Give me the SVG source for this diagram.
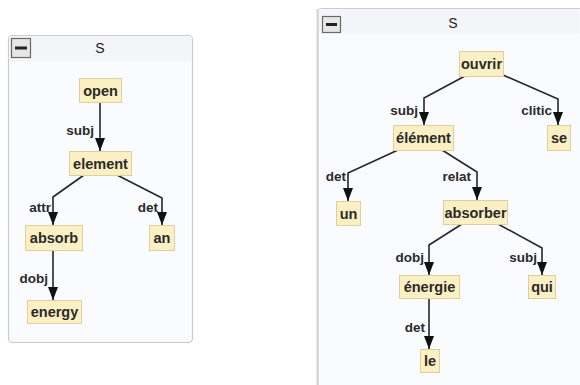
<svg xmlns="http://www.w3.org/2000/svg" width="580" height="385" viewBox="0 0 580 385">
  <style>
    .panel { fill: #f9fbfe; stroke: #c9ccd0; stroke-width: 1.2; }
    .header { fill: #f3f5f8; }
    .btn { fill: #e6e6e6; stroke: #6a6a6a; stroke-width: 1.2; }
    .btnbar { fill: #222; }
    .title { font-family: "Liberation Sans", Arial, sans-serif; font-size: 14px; fill: #222; text-anchor: middle; }
    .node rect { fill: #fbefc4; stroke: #ddd09e; stroke-width: 1; }
    .node text { font-family: "Liberation Sans", Arial, sans-serif; font-size: 14.5px; font-weight: bold; fill: #2a2a2a; text-anchor: middle; }
    .edge { fill: none; stroke: #262626; stroke-width: 1.6; marker-end: url(#arrow); }
    .lbl { font-family: "Liberation Sans", Arial, sans-serif; font-size: 13.5px; font-weight: bold; fill: #2a2a2a; text-anchor: end; }
  </style>
  <defs>
    <marker id="arrow" viewBox="0 0 13 10" refX="13" refY="5" markerWidth="13" markerHeight="10" markerUnits="userSpaceOnUse" orient="auto">
      <path d="M0,0 L13,5 L0,10 z" fill="#111"/>
    </marker>
  </defs>

  <rect width="580" height="385" fill="#ffffff"/>

  <!-- English parse panel -->
  <g id="panel-en">
    <rect class="panel" x="8.5" y="35.5" width="184" height="307" rx="4"/>
    <rect class="header" x="9.2" y="36.2" width="182.6" height="25" rx="3"/>
    <rect class="btn" x="11.5" y="38.5" width="19" height="19"/>
    <rect class="btnbar" x="15" y="46.5" width="12" height="3"/>
    <text class="title" x="100" y="53">S</text>
  </g>

  <!-- French parse panel -->
  <g id="panel-fr">
    <rect class="panel" x="317.5" y="8.5" width="270" height="385" rx="4"/>
    <rect x="316.5" y="9" width="2.5" height="376" fill="#d5d7da"/>
    <rect class="header" x="319.2" y="9.2" width="260" height="24"/>
    <rect class="btn" x="322.5" y="16.5" width="18" height="16"/>
    <rect class="btnbar" x="326" y="23" width="11" height="3"/>
    <text class="title" x="453" y="28">S</text>
  </g>

  <!-- dependency arcs -->
  <g id="connectors">
    <path class="edge" d="M100,102 L100,151"/>
    <path class="edge" d="M84,175 L53,197 L53,225"/>
    <path class="edge" d="M117,175 L162,198 L162,225"/>
    <path class="edge" d="M53,250 L53,300"/>

    <path class="edge" d="M465,76 L424,98 L424,125"/>
    <path class="edge" d="M503,75 L558,99 L558,125"/>
    <path class="edge" d="M398,150 L348,173 L348,201"/>
    <path class="edge" d="M442,150 L477,172 L477,200"/>
    <path class="edge" d="M462,224 L429,245 L429,275"/>
    <path class="edge" d="M498,224 L542,248 L542,275"/>
    <path class="edge" d="M429,298 L429,349"/>

    <text class="lbl" x="94" y="135">subj</text>
    <text class="lbl" x="51" y="212">attr</text>
    <text class="lbl" x="158" y="212">det</text>
    <text class="lbl" x="48" y="283">dobj</text>

    <text class="lbl" x="418" y="115">subj</text>
    <text class="lbl" x="552" y="115">clitic</text>
    <text class="lbl" x="346" y="181">det</text>
    <text class="lbl" x="471" y="181">relat</text>
    <text class="lbl" x="424" y="262">dobj</text>
    <text class="lbl" x="537" y="262">subj</text>
    <text class="lbl" x="425" y="332">det</text>
  </g>

  <!-- English nodes -->
  <g id="n-open" class="node"><rect x="79.5" y="78.5" width="42" height="24"/><text x="100.5" y="95.5">open</text></g>
  <g id="n-element" class="node"><rect x="69.5" y="151.5" width="62" height="24"/><text x="100.5" y="168.5">element</text></g>
  <g id="n-absorb" class="node"><rect x="25.5" y="225.5" width="57" height="25"/><text x="54" y="243">absorb</text></g>
  <g id="n-an" class="node"><rect x="149.5" y="225.5" width="25" height="25"/><text x="162" y="243">an</text></g>
  <g id="n-energy" class="node"><rect x="27.5" y="300.5" width="54" height="23"/><text x="54.5" y="317">energy</text></g>

  <!-- French nodes -->
  <g id="n-ouvrir" class="node"><rect x="459.5" y="51.5" width="44" height="25"/><text x="481.5" y="69">ouvrir</text></g>
  <g id="n-element-fr" class="node"><rect x="393.5" y="125.5" width="60" height="25"/><text x="423.5" y="143">élément</text></g>
  <g id="n-se" class="node"><rect x="547.5" y="125.5" width="23" height="25"/><text x="559" y="143">se</text></g>
  <g id="n-un" class="node"><rect x="336.5" y="201.5" width="24" height="24"/><text x="348.5" y="218.5">un</text></g>
  <g id="n-absorber" class="node"><rect x="443.5" y="200.5" width="64" height="24"/><text x="475.5" y="217.5">absorber</text></g>
  <g id="n-energie" class="node"><rect x="399.5" y="275.5" width="60" height="23"/><text x="429.5" y="292">énergie</text></g>
  <g id="n-qui" class="node"><rect x="528.5" y="275.5" width="27" height="23"/><text x="542" y="292">qui</text></g>
  <g id="n-le" class="node"><rect x="420.5" y="349.5" width="19" height="23"/><text x="430" y="366">le</text></g>
</svg>
